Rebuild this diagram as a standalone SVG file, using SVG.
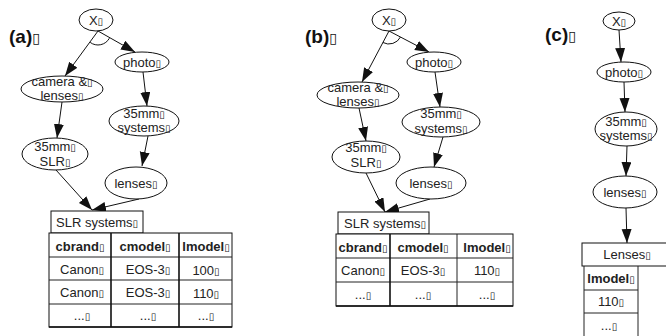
<svg xmlns="http://www.w3.org/2000/svg" width="666" height="336" viewBox="0 0 666 336">
<defs>
<style>
text{font-family:"Liberation Sans",Arial,sans-serif;font-size:13px;fill:#222}
.m{text-anchor:middle}
.b{font-weight:bold}
.lbl{font-weight:bold;font-size:19px;fill:#111}
.t{font-family:"DejaVu Sans",sans-serif;font-size:10px;font-weight:normal}
.tl{font-family:"DejaVu Sans",sans-serif;font-size:14px;font-weight:normal}
ellipse{fill:#fff;stroke:#111;stroke-width:1}
.e{fill:none;stroke:#111;stroke-width:1;marker-end:url(#ah)}
.arc{fill:none;stroke:#111;stroke-width:1}
.box{fill:#fff;stroke:#111;stroke-width:1}
.ln{stroke:#222;stroke-width:1;fill:none}
.tk{stroke:#111;stroke-width:1.6;fill:none}
</style>
<marker id="ah" markerUnits="userSpaceOnUse" markerWidth="15" markerHeight="11" refX="14" refY="5" orient="auto">
<path d="M0,0 L14,5 L0,10 z" fill="#111"/>
</marker>
</defs>
<rect width="666" height="336" fill="#fff"/>

<text class="lbl" x="9" y="43">(a)<tspan class="tl">▯</tspan></text>
<text class="lbl" x="305" y="43">(b)<tspan class="tl">▯</tspan></text>
<text class="lbl" x="545" y="41">(c)<tspan class="tl">▯</tspan></text>

<g id="connectors">
<!-- (a) -->
<path class="e" d="M98,31 L65,76"/>
<path class="e" d="M98,31 L135,52"/>
<path class="arc" d="M90.2,42.4 A13,13 0 0 0 109.4,38.2"/>
<path class="e" d="M62,102 L57,138"/>
<path class="e" d="M143,72 L147,106"/>
<path class="e" d="M148,136 L142,166"/>
<path class="e" d="M56,170 L92,210"/>
<path class="e" d="M139,199 L92,210"/>
<!-- (b) -->
<path class="e" d="M389,31 L362,82"/>
<path class="e" d="M389,31 L429,52"/>
<path class="arc" d="M382.9,42.5 A13,13 0 0 0 400.5,37"/>
<path class="e" d="M359,108 L366,141"/>
<path class="e" d="M435,72 L440,107"/>
<path class="e" d="M443,137 L434,167"/>
<path class="e" d="M366,173 L385,212"/>
<path class="e" d="M430,199 L385,212"/>
<!-- (c) -->
<path class="e" d="M619,30 L621,62"/>
<path class="e" d="M624,82 L625,112"/>
<path class="e" d="M627,146 L626,176"/>
<path class="e" d="M626,208 L627,243"/>
</g>

<!-- (a) nodes -->
<g id="a-x"><ellipse cx="96" cy="20" rx="17" ry="11"/><text class="m" x="96" y="25">X<tspan class="t">▯</tspan></text></g>
<g id="a-photo"><ellipse cx="142" cy="62" rx="27" ry="10"/><text class="m" x="142" y="67">photo<tspan class="t">▯</tspan></text></g>
<g id="a-camera"><ellipse cx="62" cy="89" rx="41" ry="13"/><text class="m" x="62" y="86">camera &amp;<tspan class="t">▯</tspan></text><text class="m" x="62" y="100">lenses<tspan class="t">▯</tspan></text></g>
<g id="a-35sys"><ellipse cx="144" cy="121" rx="35" ry="15"/><text class="m" x="144" y="118">35mm<tspan class="t">▯</tspan></text><text class="m" x="144" y="132">systems<tspan class="t">▯</tspan></text></g>
<g id="a-35slr"><ellipse cx="55" cy="154" rx="33" ry="16"/><text class="m" x="55" y="151">35mm<tspan class="t">▯</tspan></text><text class="m" x="55" y="166">SLR<tspan class="t">▯</tspan></text></g>
<g id="a-lenses"><ellipse cx="136" cy="183" rx="31" ry="16"/><text class="m" x="136" y="188">lenses<tspan class="t">▯</tspan></text></g>
<g id="a-table">
<rect class="box" x="51" y="211" width="92" height="22"/>
<text x="56" y="227">SLR systems<tspan class="t">▯</tspan></text>
<rect class="box" x="49" y="233" width="183" height="94"/>
<path class="ln" d="M49,257 H232 M49,280 H232 M49,304 H232"/>
<path class="tk" d="M111,233 V327 M179,233 V327 M49,327 H232"/>
<text class="m b" x="80" y="251">cbrand<tspan class="t">▯</tspan></text>
<text class="m b" x="145" y="251">cmodel<tspan class="t">▯</tspan></text>
<text class="m b" x="206" y="251">lmodel<tspan class="t">▯</tspan></text>
<text class="m" x="82" y="274">Canon<tspan class="t">▯</tspan></text>
<text class="m" x="148" y="274">EOS-3<tspan class="t">▯</tspan></text>
<text class="m" x="206" y="275">100<tspan class="t">▯</tspan></text>
<text class="m" x="82" y="297">Canon<tspan class="t">▯</tspan></text>
<text class="m" x="148" y="297">EOS-3<tspan class="t">▯</tspan></text>
<text class="m" x="206" y="298">110<tspan class="t">▯</tspan></text>
<text class="m" x="82" y="320">...<tspan class="t">▯</tspan></text>
<text class="m" x="148" y="320">...<tspan class="t">▯</tspan></text>
<text class="m" x="206" y="320">...<tspan class="t">▯</tspan></text>
</g>

<!-- (b) nodes -->
<g id="b-x"><ellipse cx="389" cy="20" rx="17" ry="11"/><text class="m" x="389" y="25">X<tspan class="t">▯</tspan></text></g>
<g id="b-photo"><ellipse cx="434" cy="62" rx="27" ry="10"/><text class="m" x="434" y="67">photo<tspan class="t">▯</tspan></text></g>
<g id="b-camera"><ellipse cx="358" cy="95" rx="41" ry="13"/><text class="m" x="358" y="92">camera &amp;<tspan class="t">▯</tspan></text><text class="m" x="358" y="106">lenses<tspan class="t">▯</tspan></text></g>
<g id="b-35sys"><ellipse cx="441" cy="122" rx="39" ry="15"/><text class="m" x="441" y="118">35mm<tspan class="t">▯</tspan></text><text class="m" x="441" y="133">systems<tspan class="t">▯</tspan></text></g>
<g id="b-35slr"><ellipse cx="366" cy="157" rx="34" ry="16"/><text class="m" x="366" y="152">35mm<tspan class="t">▯</tspan></text><text class="m" x="366" y="167">SLR<tspan class="t">▯</tspan></text></g>
<g id="b-lenses"><ellipse cx="431" cy="183" rx="35" ry="16"/><text class="m" x="431" y="188">lenses<tspan class="t">▯</tspan></text></g>
<g id="b-table">
<rect class="box" x="338" y="212" width="91" height="22"/>
<text x="344" y="228">SLR systems<tspan class="t">▯</tspan></text>
<rect class="box" x="336" y="234" width="177" height="72"/>
<path class="ln" d="M336,258 H513 M336,282 H513 M457,234 V306"/>
<path class="tk" d="M390,234 V306 M336,306 H513"/>
<text class="m b" x="363" y="252">cbrand<tspan class="t">▯</tspan></text>
<text class="m b" x="423" y="252">cmodel<tspan class="t">▯</tspan></text>
<text class="m b" x="487" y="252">lmodel<tspan class="t">▯</tspan></text>
<text class="m" x="363" y="275">Canon<tspan class="t">▯</tspan></text>
<text class="m" x="423" y="275">EOS-3<tspan class="t">▯</tspan></text>
<text class="m" x="487" y="275">110<tspan class="t">▯</tspan></text>
<text class="m" x="363" y="299">...<tspan class="t">▯</tspan></text>
<text class="m" x="423" y="299">...<tspan class="t">▯</tspan></text>
<text class="m" x="487" y="299">...<tspan class="t">▯</tspan></text>
</g>

<!-- (c) nodes -->
<g id="c-x"><ellipse cx="619" cy="21" rx="16" ry="9"/><text class="m" x="619" y="26">X<tspan class="t">▯</tspan></text></g>
<g id="c-photo"><ellipse cx="624" cy="72" rx="27" ry="10"/><text class="m" x="624" y="77">photo<tspan class="t">▯</tspan></text></g>
<g id="c-35sys"><ellipse cx="626" cy="129" rx="31" ry="17"/><text class="m" x="626" y="126">35mm<tspan class="t">▯</tspan></text><text class="m" x="626" y="140">systems<tspan class="t">▯</tspan></text></g>
<g id="c-lenses"><ellipse cx="625" cy="192" rx="32" ry="16"/><text class="m" x="625" y="197">lenses<tspan class="t">▯</tspan></text></g>
<g id="c-table">
<rect class="box" x="582" y="243" width="90" height="23"/>
<text class="m" x="627" y="259">Lenses<tspan class="t">▯</tspan></text>
<path class="ln" d="M584,266 V340 M638,266 V340 M584,290 H638 M584,313 H638"/>
<text class="m b" x="611" y="283">lmodel<tspan class="t">▯</tspan></text>
<text class="m" x="611" y="306">110<tspan class="t">▯</tspan></text>
<text class="m" x="609" y="330">...<tspan class="t">▯</tspan></text>
</g>
</svg>
